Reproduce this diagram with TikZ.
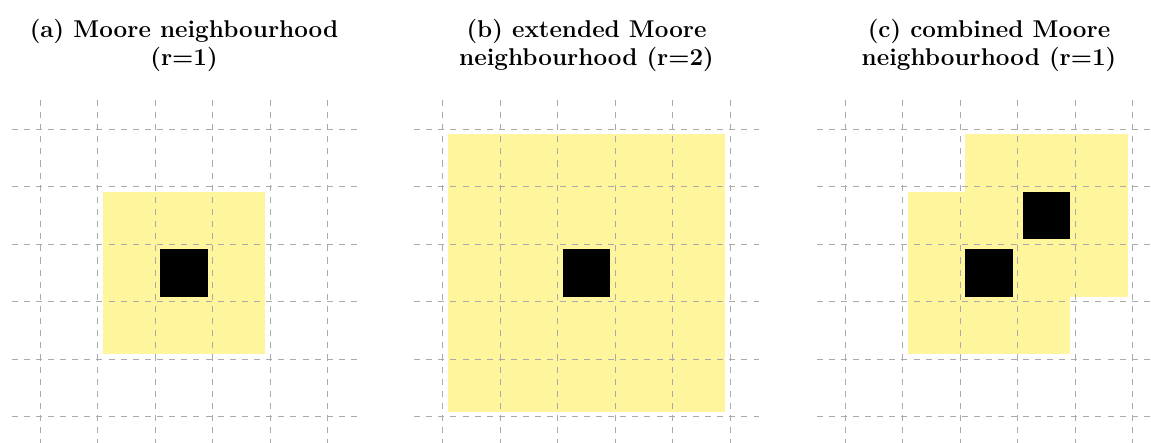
\documentclass[tikz,border=0pt]{standalone}
\usepackage{xcolor}
\usepackage{tikz}
\definecolor{cn}{HTML}{FFF59D}
\definecolor{cl}{HTML}{AAAAAA}

\begin{document}
\begin{tikzpicture}[x=1cm,y=1cm]
  \useasboundingbox (-0.701,-0.443) rectangle (19.317,7.247);
  % neighbourhoods
  \foreach \xa/\ya/\xb/\yb in {1/1/4/4, 7/0/12/5, 16/2/19/5, 15/1/18/4}
    \fill[cn] (\xa+0.087,\ya+0.087) rectangle (\xb-0.087,\yb-0.087);
  % grids
  \foreach \o in {0,7,14} {
    \foreach \k in {0,...,5} {
      \draw[cl, dashed] (\o-0.5,\k) -- (\o+5.5,\k);
      \draw[cl, dashed] (\o+\k,-0.5) -- (\o+\k,5.5);}}
  % centre cells
  \foreach \x/\y in {2/2, 9/2, 16/2, 17/3}
    \fill[black] (\x+0.087,\y+0.087) rectangle (\x+0.913,\y+0.913);
  \foreach \t [count=\i] in {{(a) Moore neighbourhood\\(r=1)}, {(b) extended Moore\\neighbourhood (r=2)}, {(c) combined Moore\\neighbourhood (r=1)}} {
    \node[font=\large\bfseries, align=center, inner sep=0pt] (cap\i) at ({7*(\i-1)+2.5},6.46) {\t};}
\end{tikzpicture}
\end{document}
